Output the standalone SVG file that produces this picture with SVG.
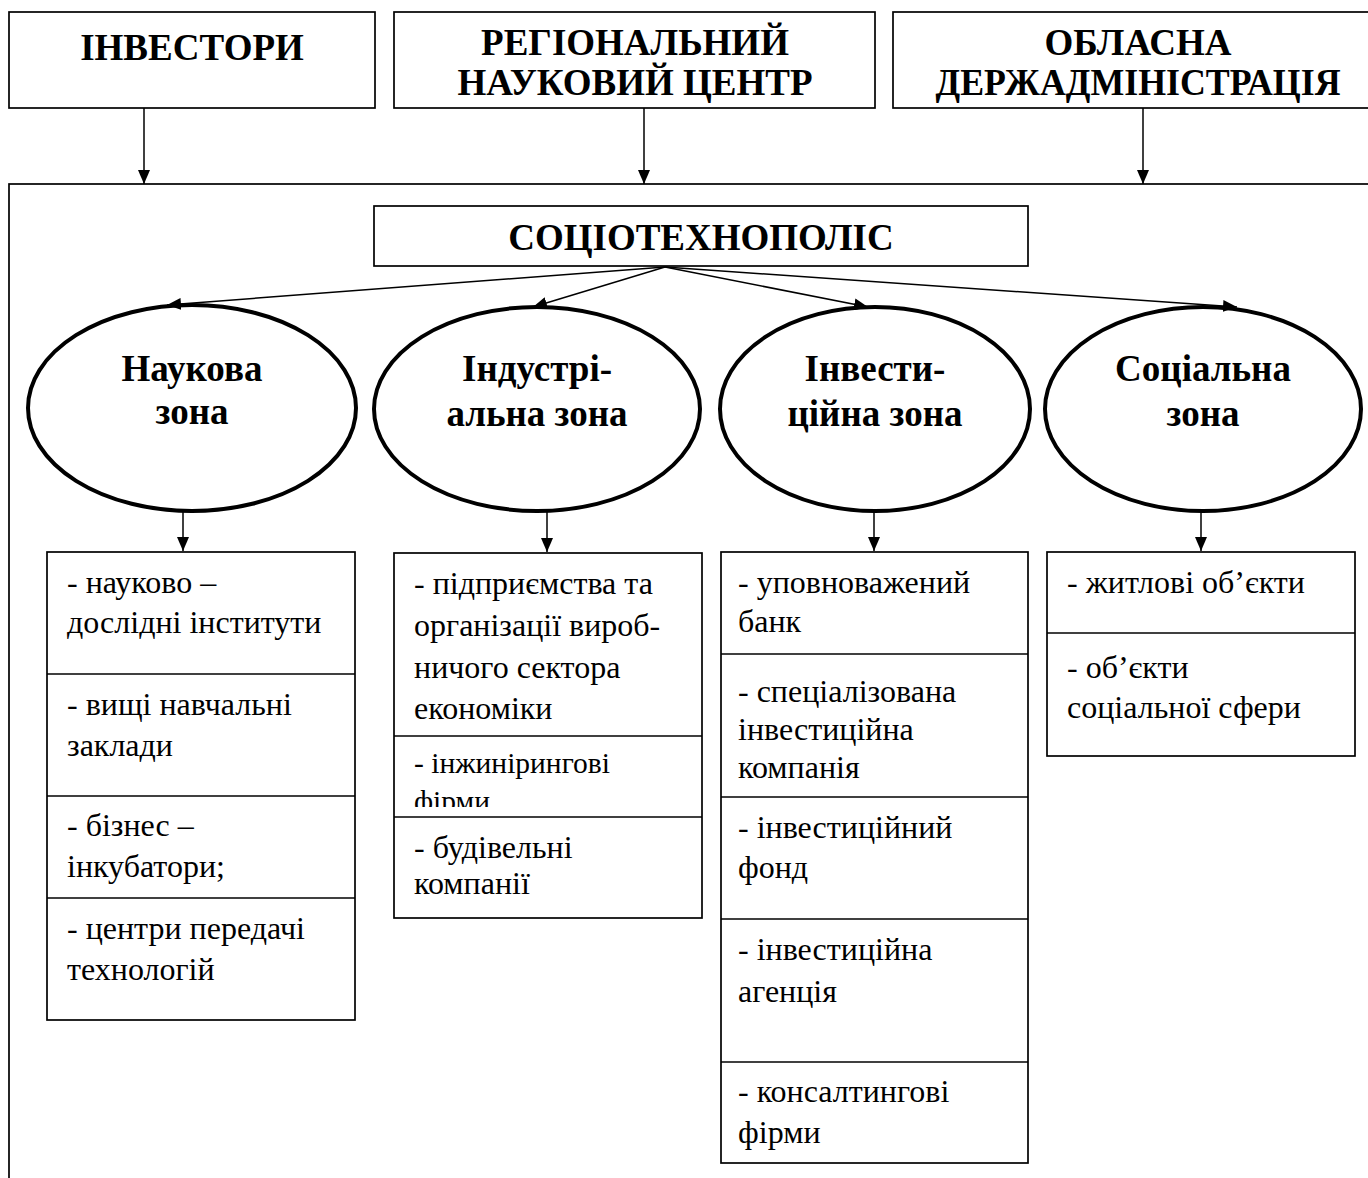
<svg xmlns="http://www.w3.org/2000/svg" width="1368" height="1178" viewBox="0 0 1368 1178">
<style>
.box{fill:#fff;stroke:#000;stroke-width:1.7}
.ell{fill:#fff;stroke:#000;stroke-width:4}
.ln{stroke:#000;stroke-width:1.5;fill:none}
.h{font-family:"Liberation Serif","Times New Roman",serif;font-weight:bold;font-size:37px;text-anchor:middle;fill:#000}
.t{font-family:"Liberation Serif","Times New Roman",serif;font-size:32px;fill:#000}
.ts{font-family:"Liberation Serif","Times New Roman",serif;font-size:29.5px;fill:#000}
</style>
<defs>
<marker id="ah" viewBox="0 0 14 12" refX="14" refY="6" markerWidth="14" markerHeight="12" markerUnits="userSpaceOnUse" orient="auto">
<path d="M0,0 L14,6 L0,12 Z" fill="#000"/>
</marker>
<clipPath id="clipF"><rect x="394" y="736" width="308" height="71"/></clipPath>
</defs>
<rect width="1368" height="1178" fill="#fff"/>

<g id="container"><rect class="box" x="9" y="184" width="1400" height="1100"/></g>

<g id="investors"><rect class="box" x="9" y="12" width="366" height="96"/>
<text class="h" x="192" y="60">ІНВЕСТОРИ</text></g>
<g id="regional-center"><rect class="box" x="394" y="12" width="481" height="96"/>
<text class="h" x="635" y="55">РЕГІОНАЛЬНИЙ</text>
<text class="h" x="635" y="95">НАУКОВИЙ ЦЕНТР</text></g>
<g id="oblast-admin"><rect class="box" x="893" y="12" width="516" height="96"/>
<text class="h" x="1138" y="55">ОБЛАСНА</text>
<text class="h" x="1138" y="95" textLength="405" lengthAdjust="spacingAndGlyphs">ДЕРЖАДМІНІСТРАЦІЯ</text></g>

<g id="sociotechnopolis"><rect class="box" x="374" y="206" width="654" height="60"/>
<text class="h" x="701" y="250">СОЦІОТЕХНОПОЛІС</text></g>

<g id="zone-science"><ellipse class="ell" cx="192" cy="408" rx="164" ry="103"/>
<text class="h" x="192" y="381">Наукова</text><text class="h" x="192" y="424">зона</text></g>
<g id="zone-industry"><ellipse class="ell" cx="537" cy="409" rx="163" ry="102"/>
<text class="h" x="537" y="381">Індустрі-</text><text class="h" x="537" y="426">альна зона</text></g>
<g id="zone-invest"><ellipse class="ell" cx="875" cy="409" rx="155" ry="102"/>
<text class="h" x="875" y="381">Інвести-</text><text class="h" x="875" y="426">ційна зона</text></g>
<g id="zone-social"><ellipse class="ell" cx="1203" cy="409" rx="158" ry="102"/>
<text class="h" x="1203" y="381">Соціальна</text><text class="h" x="1203" y="426">зона</text></g>

<g id="list-science">
<rect class="box" x="47" y="552" width="308" height="468"/>
<line class="ln" x1="47" y1="674" x2="355" y2="674"/>
<line class="ln" x1="47" y1="796" x2="355" y2="796"/>
<line class="ln" x1="47" y1="898" x2="355" y2="898"/>
<text class="t" x="67" y="593">- науково –</text>
<text class="t" x="67" y="633">дослідні інститути</text>
<text class="t" x="67" y="715">- вищі навчальні</text>
<text class="t" x="67" y="756">заклади</text>
<text class="t" x="67" y="836">- бізнес –</text>
<text class="t" x="67" y="877">інкубатори;</text>
<text class="t" x="67" y="939">- центри передачі</text>
<text class="t" x="67" y="980">технологій</text>
</g>

<g id="list-industry">
<rect class="box" x="394" y="553" width="308" height="365"/>
<line class="ln" x1="394" y1="736" x2="702" y2="736"/>
<line class="ln" x1="394" y1="817" x2="702" y2="817"/>
<text class="t" x="414" y="594">- підприємства та</text>
<text class="t" x="414" y="636">організації вироб-</text>
<text class="t" x="414" y="678">ничого сектора</text>
<text class="t" x="414" y="719">економіки</text>
<text class="ts" x="414" y="773">- інжинірингові</text>
<text class="ts" x="414" y="811" clip-path="url(#clipF)">фірми</text>
<text class="t" x="414" y="858">- будівельні</text>
<text class="t" x="414" y="894">компанії</text>
</g>

<g id="list-invest">
<rect class="box" x="721" y="552" width="307" height="611"/>
<line class="ln" x1="721" y1="654" x2="1028" y2="654"/>
<line class="ln" x1="721" y1="797" x2="1028" y2="797"/>
<line class="ln" x1="721" y1="919" x2="1028" y2="919"/>
<line class="ln" x1="721" y1="1062" x2="1028" y2="1062"/>
<text class="t" x="738" y="593">- уповноважений</text>
<text class="t" x="738" y="632">банк</text>
<text class="t" x="738" y="702">- спеціалізована</text>
<text class="t" x="738" y="740">інвестиційна</text>
<text class="t" x="738" y="778">компанія</text>
<text class="t" x="738" y="838">- інвестиційний</text>
<text class="t" x="738" y="878">фонд</text>
<text class="t" x="738" y="960">- інвестиційна</text>
<text class="t" x="738" y="1002">агенція</text>
<text class="t" x="738" y="1102">- консалтингові</text>
<text class="t" x="738" y="1143">фірми</text>
</g>

<g id="list-social">
<rect class="box" x="1047" y="552" width="308" height="204"/>
<line class="ln" x1="1047" y1="633" x2="1355" y2="633"/>
<text class="t" x="1067" y="593">- житлові об’єкти</text>
<text class="t" x="1067" y="678">- об’єкти</text>
<text class="t" x="1067" y="718">соціальної сфери</text>
</g>

<g id="connectors">
<line class="ln" x1="144" y1="108" x2="144" y2="184" marker-end="url(#ah)"/>
<line class="ln" x1="644" y1="108" x2="644" y2="184" marker-end="url(#ah)"/>
<line class="ln" x1="1143" y1="108" x2="1143" y2="184" marker-end="url(#ah)"/>
<line class="ln" x1="665" y1="267" x2="167" y2="305" marker-end="url(#ah)"/>
<line class="ln" x1="665" y1="267" x2="533" y2="307" marker-end="url(#ah)"/>
<line class="ln" x1="665" y1="267" x2="868" y2="307" marker-end="url(#ah)"/>
<line class="ln" x1="665" y1="267" x2="1237" y2="307" marker-end="url(#ah)"/>
<line class="ln" x1="183" y1="511" x2="183" y2="551" marker-end="url(#ah)"/>
<line class="ln" x1="547" y1="511" x2="547" y2="552" marker-end="url(#ah)"/>
<line class="ln" x1="874" y1="511" x2="874" y2="551" marker-end="url(#ah)"/>
<line class="ln" x1="1201" y1="511" x2="1201" y2="551" marker-end="url(#ah)"/>
</g>
</svg>
